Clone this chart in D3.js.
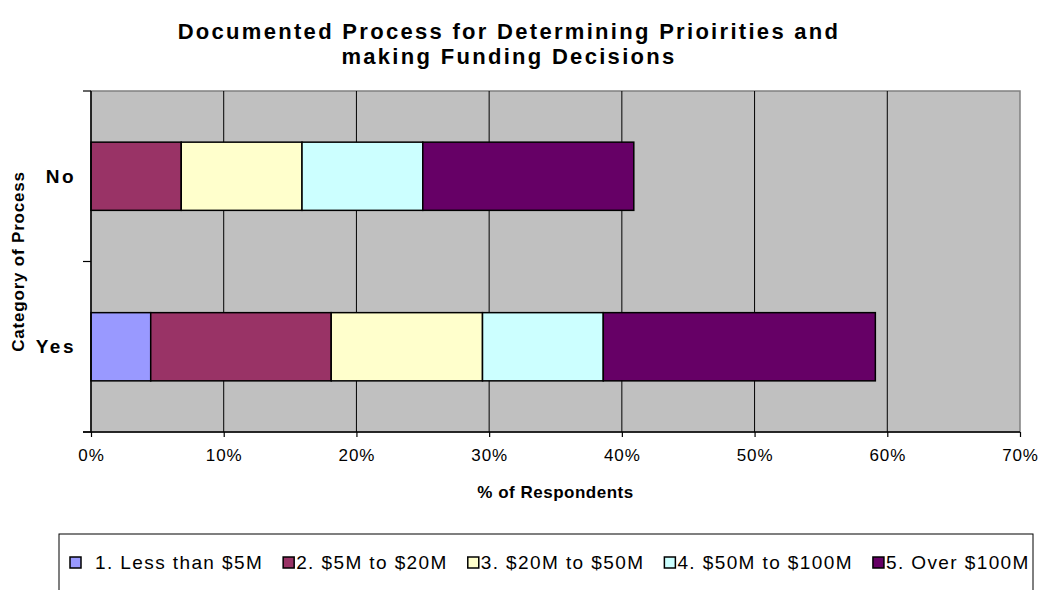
<!DOCTYPE html>
<html>
<head>
<meta charset="utf-8">
<script src="https://cdn.jsdelivr.net/npm/d3@7"></script>
<style>
  body { margin: 0; background: #fff; }
  text { font-family: "Liberation Sans", Arial, sans-serif; fill: #000; }
</style>
</head>
<body>
<div id="chart"></div>
<script>
(function() {
  // data (% of respondents)
  var categories = ["No", "Yes"];
  var seriesNames = ["1. Less than $5M", "2. $5M to $20M", "3. $20M to $50M", "4. $50M to $100M", "5. Over $100M"];
  var valuesNo  = [0, 6.8, 9.1, 9.1, 15.9];
  var valuesYes = [4.5, 13.6, 11.4, 9.1, 20.5];
  var xTicks = [0, 10, 20, 30, 40, 50, 60, 70];
  var seriesColors = ["#9999FF", "#993366", "#FFFFCC", "#CCFFFF", "#660066"];

  var width = 1042, height = 590;
  var margin = { top: 91, right: 22, bottom: 158, left: 91 };

  var svg = d3.select("#chart").append("svg")
      .attr("width", width)
      .attr("height", height);

  var rows = categories.map((c, i) => {
    var vals = i == 0 ? valuesNo : valuesYes;
    var row = { category: c };
    seriesNames.forEach((s, j) => row[s] = vals[j]);
    return row;
  });

  var stacked = d3.stack().keys(seriesNames)(rows);

  var x = d3.scaleLinear()
      .domain([0, 70])
      .range([margin.left, width - margin.right]);

  var y = d3.scaleBand()
      .domain(categories)
      .range([margin.top, height - margin.bottom])
      .paddingInner(0.6)
      .paddingOuter(0.3);

  var color = d3.scaleOrdinal().domain(seriesNames).range(seriesColors);

  var plotTop = margin.top, plotBottom = height - margin.bottom;

  // plot background
  svg.append("rect")
      .attr("x", x(0))
      .attr("y", plotTop)
      .attr("width", x(70) - x(0))
      .attr("height", plotBottom - plotTop)
      .attr("fill", "#C0C0C0")
      .attr("stroke", "#808080")
      .attr("stroke-width", 1.5);

  // vertical gridlines
  svg.append("g")
    .selectAll("line")
    .data(xTicks.slice(1, -1))
    .join("line")
      .attr("x1", d => x(d))
      .attr("x2", d => x(d))
      .attr("y1", plotTop)
      .attr("y2", plotBottom)
      .attr("stroke", "#000")
      .attr("stroke-width", 1);

  // bars
  svg.append("g")
    .selectAll("g")
    .data(stacked)
    .join("g")
      .attr("fill", d => color(d.key))
    .selectAll("rect")
    .data(d => d.filter(s => s[1] - s[0] > 0))
    .join("rect")
      .attr("x", d => x(d[0]))
      .attr("y", d => y(d.data.category))
      .attr("width", d => x(d[1]) - x(d[0]))
      .attr("height", y.bandwidth())
      .attr("stroke", "#000")
      .attr("stroke-width", 1.5);

  // x axis
  var xAxis = svg.append("g")
      .attr("transform", "translate(0," + plotBottom + ")")
      .call(d3.axisBottom(x).tickValues(xTicks).tickFormat(d => d + "%").tickSize(5).tickSizeOuter(0));
  xAxis.select(".domain").remove();
  xAxis.append("line")
      .attr("x1", x(0) - 8)
      .attr("x2", x(70))
      .attr("stroke", "#000")
      .attr("stroke-width", 1.5);
  xAxis.selectAll(".tick line").attr("stroke", "#000").attr("stroke-width", 1.2);
  xAxis.selectAll(".tick text")
      .attr("y", 23)
      .attr("dy", "0.35em")
      .attr("font-size", "17px")
      .attr("letter-spacing", "0.9px")
      .attr("fill", "#000");

  // y axis: line and ticks on category boundaries
  var yAxis = svg.append("g");
  yAxis.append("line")
      .attr("x1", x(0)).attr("x2", x(0))
      .attr("y1", plotTop).attr("y2", plotBottom)
      .attr("stroke", "#000").attr("stroke-width", 1.5);
  var boundaries = [plotTop].concat(categories.map(c => y(c) + y.bandwidth() + y.step() * y.paddingInner() / 2));
  yAxis.selectAll(".ytick")
    .data(boundaries)
    .join("line")
      .attr("class", "ytick")
      .attr("x1", x(0) - 8).attr("x2", x(0))
      .attr("y1", d => d).attr("y2", d => d)
      .attr("stroke", "#000").attr("stroke-width", 1.2);
  yAxis.selectAll(".ylabel")
    .data(categories)
    .join("text")
      .attr("class", "ylabel")
      .attr("x", x(0) - 15)
      .attr("y", d => y(d) + y.bandwidth() / 2)
      .attr("dy", "0.35em")
      .attr("text-anchor", "end")
      .attr("font-size", "19px")
      .attr("font-weight", "bold")
      .attr("letter-spacing", "2.5px")
      .text(d => d);

  // titles
  var title = svg.append("text")
      .attr("text-anchor", "middle")
      .attr("font-size", "22px")
      .attr("font-weight", "bold")
      .attr("letter-spacing", "2.3px");
  title.append("tspan").attr("x", 509).attr("y", 39).text("Documented Process for Determining Prioirities and");
  title.append("tspan").attr("x", 509).attr("y", 64).text("making Funding Decisions");

  svg.append("text")
      .attr("x", (x(0) + x(70)) / 2)
      .attr("y", 498)
      .attr("text-anchor", "middle")
      .attr("font-size", "17px")
      .attr("font-weight", "bold")
      .attr("letter-spacing", "0.5px")
      .text("% of Respondents");

  svg.append("text")
      .attr("transform", "translate(24," + (plotTop + plotBottom) / 2 + ") rotate(-90)")
      .attr("text-anchor", "middle")
      .attr("font-size", "17px")
      .attr("font-weight", "bold")
      .attr("letter-spacing", "0.8px")
      .text("Category of Process");

  // legend
  var legend = svg.append("g");
  legend.append("rect")
      .attr("x", 59)
      .attr("y", 534)
      .attr("width", 974)
      .attr("height", 70)
      .attr("fill", "#fff")
      .attr("stroke", "#000")
      .attr("stroke-width", 1);

  var lx = 70;
  seriesNames.forEach((s, i) => {
    var item = legend.append("g").attr("transform", "translate(" + lx + ",557)");
    item.append("rect")
        .attr("width", 11)
        .attr("height", 11)
        .attr("fill", color(s))
        .attr("stroke", "#000")
        .attr("stroke-width", 1.5);
    var t = item.append("text")
        .attr("x", i == 0 ? 25 : 13)
        .attr("y", 12)
        .attr("font-size", "19px")
        .attr("letter-spacing", "1.4px")
        .text(s);
    lx += (i == 0 ? 25 : 13) + t.node().getComputedTextLength() + 20;
  });
})();
</script>
</body>
</html>
